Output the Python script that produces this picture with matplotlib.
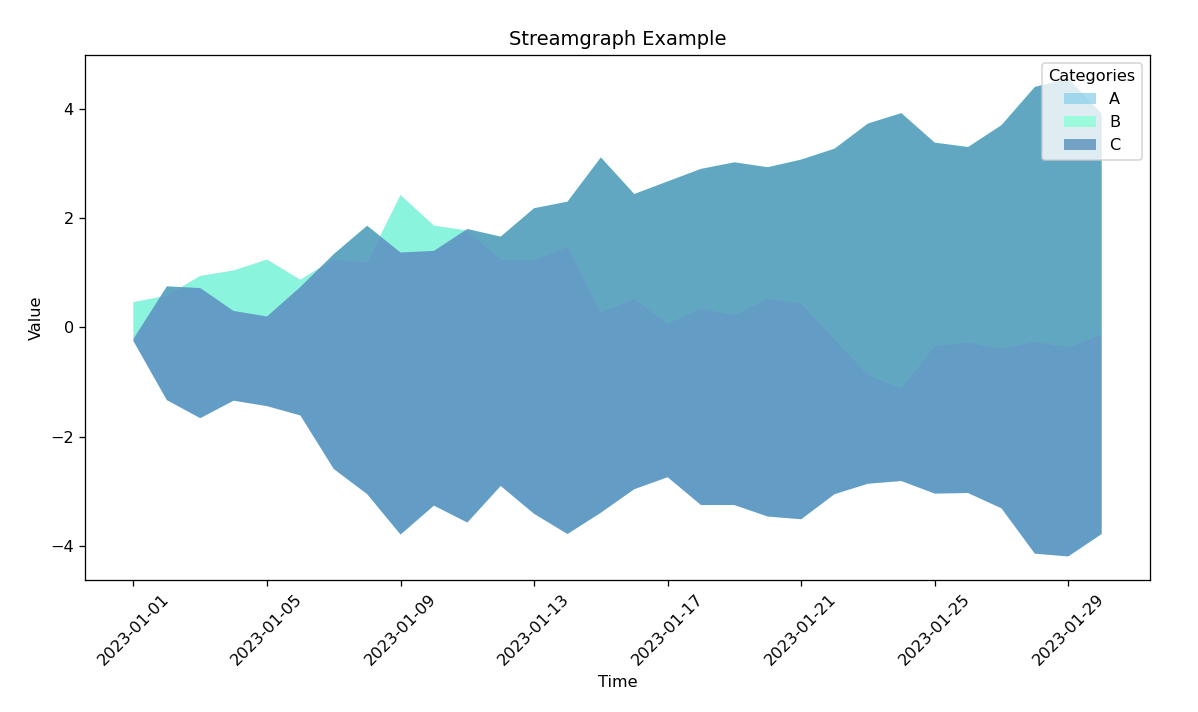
import matplotlib
matplotlib.use("Agg")
import matplotlib.pyplot as plt
import matplotlib.dates as mdates
import numpy as np
import pandas as pd

dates = pd.date_range("2023-01-01", periods=30, freq="D")
categories = ["A", "B", "C"]

A = [0.71, 1.91, 2.60, 2.38, 2.68, 2.48, 3.84, 4.24, 6.21, 5.12,
     5.34, 4.14, 4.64, 5.26, 3.67, 3.48, 2.81, 3.60, 3.48, 3.99,
     3.95, 2.83, 1.99, 1.70, 2.70, 2.76, 2.92, 3.88, 3.83, 3.65]
B = [-0.67, 0.17, -0.22, -0.74, -1.04, -0.13, 0.09, 0.67, -1.05, -0.46,
     0.03, 0.42, 0.95, 0.82, 2.83, 1.92, 2.60, 2.55, 2.79, 2.40,
     2.63, 3.49, 4.60, 5.03, 3.72, 3.57, 4.09, 4.66, 4.91, 4.04]
C = [-0.04, -2.08, -2.38, -1.64, -1.64, -2.35, -3.93, -4.91, -5.16, -4.66,
     -5.37, -4.56, -5.59, -6.08, -6.50, -5.40, -5.41, -6.15, -6.27, -6.39,
     -6.58, -6.32, -6.59, -6.73, -6.42, -6.33, -7.01, -8.54, -8.74, -7.69]

colors = ["skyblue", "aquamarine", "steelblue"]

DPI = 116
fig, ax = plt.subplots(figsize=(1198 / DPI, 712 / DPI), dpi=DPI)
fig.subplots_adjust(left=0.071, right=0.96, top=0.923, bottom=0.185)

ax.stackplot(dates, A, B, C, labels=categories, colors=colors,
             alpha=0.7, baseline="wiggle")

ax.set_title("Streamgraph Example")
ax.set_xlabel("Time")
ax.set_ylabel("Value")
ax.set_xticks(dates[::4])
ax.xaxis.set_major_formatter(mdates.DateFormatter("%Y-%m-%d"))
plt.setp(ax.get_xticklabels(), rotation=45)
ax.legend(title="Categories", loc="upper right")

fig.savefig("out.png", dpi=DPI)
